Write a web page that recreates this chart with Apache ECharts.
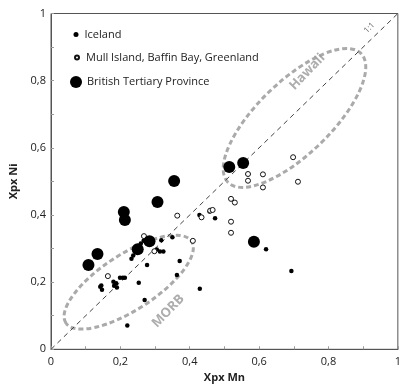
<!DOCTYPE html>
<html>
<head>
<meta charset="utf-8">
<script src="https://cdn.jsdelivr.net/npm/echarts@6/dist/echarts.min.js"></script>
<style>
html,body{margin:0;padding:0;background:#fff}
#chart{width:404px;height:392px}
</style>
</head>
<body>
<div id="chart"></div>
<script>
// Xpx Mn vs Xpx Ni
const iceland = [
  [0.142,0.186],[0.147,0.177],[0.145,0.190],[0.180,0.201],[0.182,0.189],
  [0.190,0.184],[0.188,0.197],[0.199,0.213],[0.207,0.213],[0.213,0.213],
  [0.253,0.198],[0.270,0.147],[0.220,0.071],[0.232,0.270],[0.237,0.279],
  [0.259,0.315],[0.267,0.323],[0.277,0.251],[0.305,0.297],[0.314,0.291],
  [0.324,0.291],[0.318,0.325],[0.350,0.334],[0.371,0.263],[0.363,0.221],
  [0.429,0.180],[0.473,0.390],[0.428,0.400],[0.457,0.410],[0.620,0.298],
  [0.693,0.233]
];
const mull = [
  [0.164,0.218],[0.268,0.337],[0.298,0.292],[0.364,0.398],[0.409,0.323],
  [0.434,0.393],[0.459,0.413],[0.466,0.415],[0.519,0.448],[0.530,0.437],
  [0.519,0.380],[0.519,0.347],[0.568,0.522],[0.568,0.502],[0.611,0.521],
  [0.611,0.482],[0.698,0.572],[0.712,0.499]
];
const btp = [
  [0.108,0.251],[0.134,0.284],[0.210,0.409],[0.213,0.385],[0.307,0.439],
  [0.355,0.501],[0.250,0.298],[0.284,0.322],[0.585,0.320],[0.514,0.543],
  [0.554,0.555]
];
const oneToOne = [[0,0],[1,1]];
// [centre x, centre y, half length, half width, tilt in degrees]
const regions = [
  [0.702,0.689,0.267,0.105,44],
  [0.224,0.200,0.216,0.080,33]
];
const regionLabels = [
  {name:'Hawaii', value:[0.739,0.826]},
  {name:'MORB', value:[0.338,0.114]}
];
const lineLabel = [{name:'1:1', value:[0.918,0.957]}];

const font = 'Open Sans';

function fmt(v) {
  if (v === 0) return '0';
  if (v === 1) return '1';
  return v.toFixed(1).replace('.', ',');
}

function renderRegion(params, api) {
  const c = api.coord([api.value(0), api.value(1)]);
  const rx = api.size([api.value(2), 0])[0];
  const ry = api.size([api.value(3), 0])[0];
  return {
    type: 'ellipse',
    x: c[0], y: c[1],
    rotation: api.value(4) * Math.PI / 180,
    shape: {cx: 0, cy: 0, rx: rx, ry: ry},
    style: {fill: null, stroke: '#aaa', lineWidth: 3, lineDash: [5, 3]},
    silent: true
  };
}

function legendBox(name, top, w, pad) {
  return {
    data: [name],
    left: 71 - w / 2,
    top: top,
    itemWidth: w,
    itemHeight: w,
    selectedMode: false,
    textStyle: {fontFamily: font, fontSize: 11, color: '#222', padding: [0, 0, 0, pad]}
  };
}

let chart = echarts.init(document.getElementById('chart'));
chart.setOption({
  animation: false,
  grid: {left: 50, right: 2, top: 13.5, bottom: 42.7, show: true, borderColor: '#555', borderWidth: 1},
  legend: [
    legendBox('Iceland', 24, 5, 1),
    legendBox('Mull Island, Baffin Bay, Greenland', 47, 4, 2),
    legendBox('British Tertiary Province', 71, 12, 0)
  ],
  xAxis: {
    type: 'value', min: 0, max: 1, interval: 0.2,
    name: 'Xpx Mn', nameLocation: 'middle', nameGap: 21,
    nameTextStyle: {fontFamily: font, fontSize: 11, fontWeight: 'bold', color: '#222'},
    axisLine: {lineStyle: {color: '#555'}},
    axisTick: {show: true, inside: true, length: 3, lineStyle: {color: '#999'}},
    minorTick: {show: true, splitNumber: 2, length: 3, lineStyle: {color: '#999'}},
    splitLine: {show: false},
    axisLabel: {formatter: fmt, fontFamily: font, fontSize: 11, color: '#222', margin: 7}
  },
  yAxis: {
    type: 'value', min: 0, max: 1, interval: 0.2,
    name: 'Xpx Ni', nameLocation: 'middle', nameGap: 32,
    nameTextStyle: {fontFamily: font, fontSize: 11, fontWeight: 'bold', color: '#222'},
    axisLine: {show: true, lineStyle: {color: '#555'}},
    axisTick: {show: true, inside: true, length: 3, lineStyle: {color: '#999'}},
    minorTick: {show: true, splitNumber: 2, length: 3, lineStyle: {color: '#999'}},
    splitLine: {show: false},
    axisLabel: {formatter: fmt, fontFamily: font, fontSize: 11, color: '#222', margin: 5}
  },
  series: [
    {
      type: 'custom', name: 'regions', data: regions, renderItem: renderRegion,
      clip: false, silent: true, z: 1
    },
    {
      type: 'line', name: '1:1', data: oneToOne, symbol: 'none', silent: true, z: 2,
      lineStyle: {color: '#444', width: 1, type: [5, 4]}
    },
    {
      type: 'scatter', name: 'labels', data: regionLabels, symbolSize: 0, silent: true, z: 3,
      label: {show: true, formatter: '{b}', position: 'inside', rotate: 46,
        fontFamily: font, fontSize: 13, fontWeight: 'bold', color: '#999'}
    },
    {
      type: 'scatter', name: 'lineLabel', data: lineLabel, symbolSize: 0, silent: true, z: 3,
      label: {show: true, formatter: '{b}', position: 'inside', rotate: 45,
        fontFamily: font, fontSize: 8, color: '#333'}
    },
    {
      type: 'scatter', name: 'Iceland', data: iceland, symbol: 'circle', symbolSize: 4.5, z: 4,
      itemStyle: {color: '#000', opacity: 1}
    },
    {
      type: 'scatter', name: 'Mull Island, Baffin Bay, Greenland', data: mull, symbol: 'circle',
      symbolSize: 5, z: 5,
      itemStyle: {color: '#fff', borderColor: '#111', borderWidth: 1, opacity: 1}
    },
    {
      type: 'scatter', name: 'British Tertiary Province', data: btp, symbol: 'circle', symbolSize: 12, z: 6,
      itemStyle: {color: '#000', opacity: 1}
    }
  ]
});
</script>
</body>
</html>
